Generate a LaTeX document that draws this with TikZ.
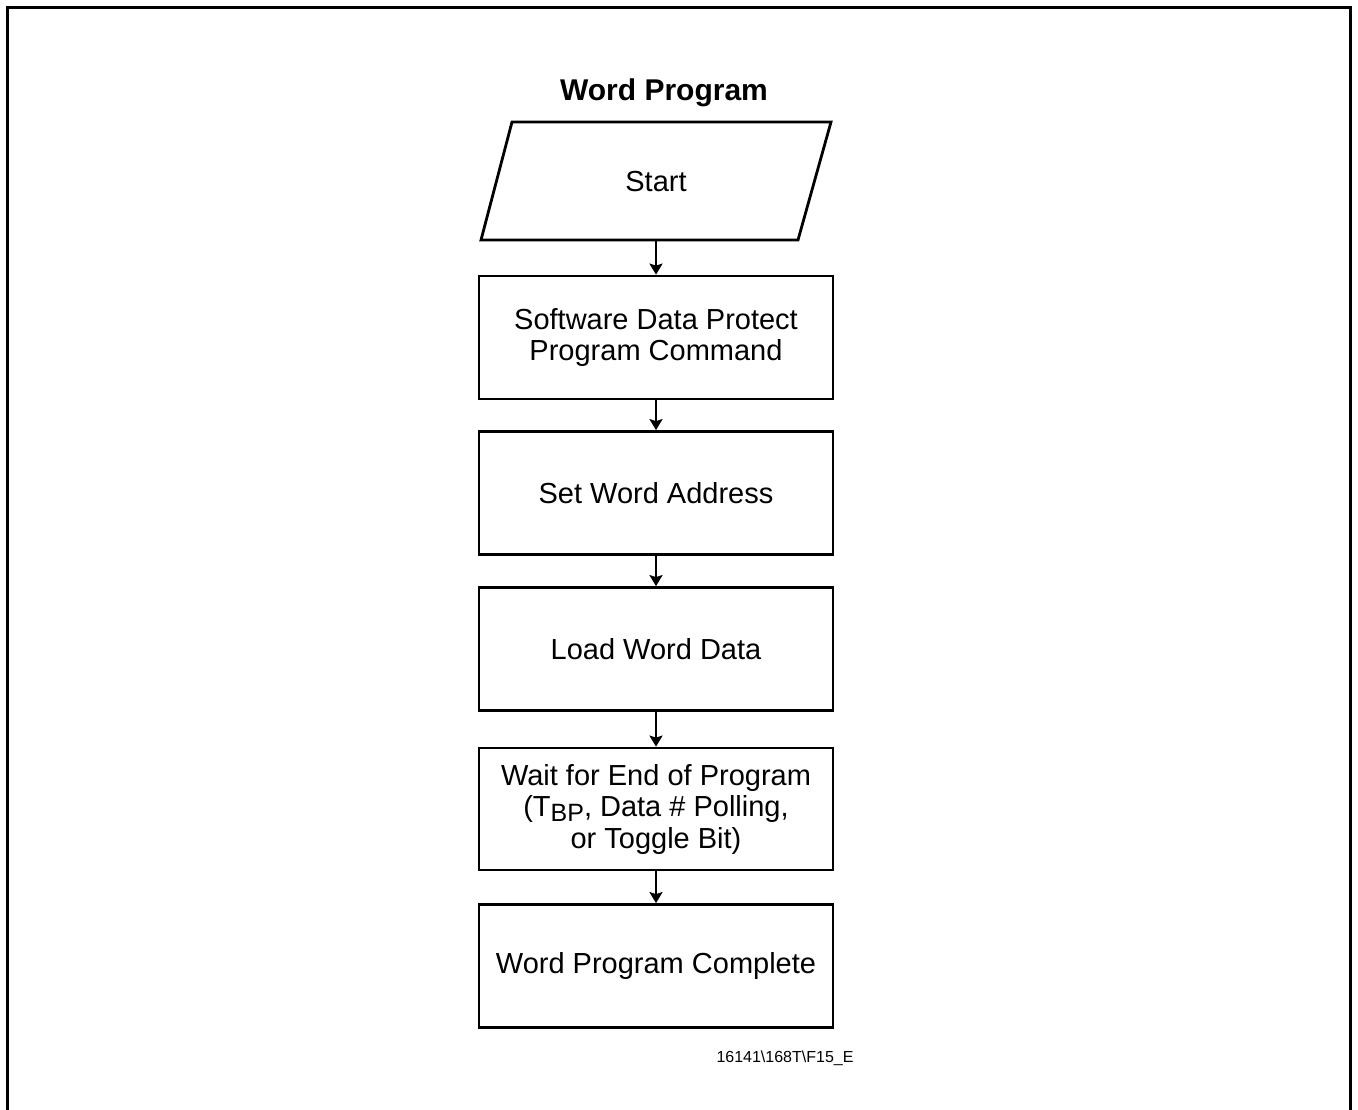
\documentclass[tikz,border=0pt]{standalone}
\usepackage{fontspec}
\setmainfont{Liberation Sans}
\usetikzlibrary{arrows.meta}
\begin{document}
\begin{tikzpicture}[x=1pt,y=-1pt,
  stepbox/.style={draw,line width=2.8pt,minimum width=354pt,minimum height=123pt,align=center,inner sep=0pt,
    font=\fontsize{29}{31.5}\selectfont},
  flow/.style={line width=2.2pt,-{Stealth[length=11pt,width=13pt,inset=2pt]}}]
\useasboundingbox (0,0) rectangle (1358,1109);
% frame
\draw[line width=3pt] (7,1115) -- (7,7) -- (1350,7) -- (1350,1115);
% title
\node[font=\fontsize{30}{34}\selectfont\bfseries] (title) at (664,93) {Word Program};
% start parallelogram
\draw[line width=2.8pt,line join=miter] (512,122) -- (831,122) -- (798,240) -- (481,240) -- cycle;
\node[minimum width=280pt,minimum height=118pt,inner sep=0pt,font=\fontsize{29}{31.5}\selectfont] (start) at (656,182) {Start};
\node[stepbox] (b1) at (656,337.5) {Software Data Protect\\Program Command};
\node[stepbox] (b2) at (656,493) {Set Word Address};
\node[stepbox] (b3) at (656,649) {Load Word Data};
\node[stepbox,minimum height=122pt] (b4) at (656,809) {Wait for End of Program\\(T\raisebox{-5pt}{\fontsize{25}{25}\selectfont BP}, Data \# Polling,\\or Toggle Bit)};
\node[stepbox] (b5) at (656,966) {Word Program Complete};
\node[font=\fontsize{16}{18}\selectfont] (lab) at (785,1058) {16141\textbackslash168T\textbackslash F15\_E};
\draw[flow] (start.south) -- (b1.north);
\draw[flow] (b1.south) -- (b2.north);
\draw[flow] (b2.south) -- (b3.north);
\draw[flow] (b3.south) -- (b4.north);
\draw[flow] (b4.south) -- (b5.north);
\end{tikzpicture}
\end{document}
